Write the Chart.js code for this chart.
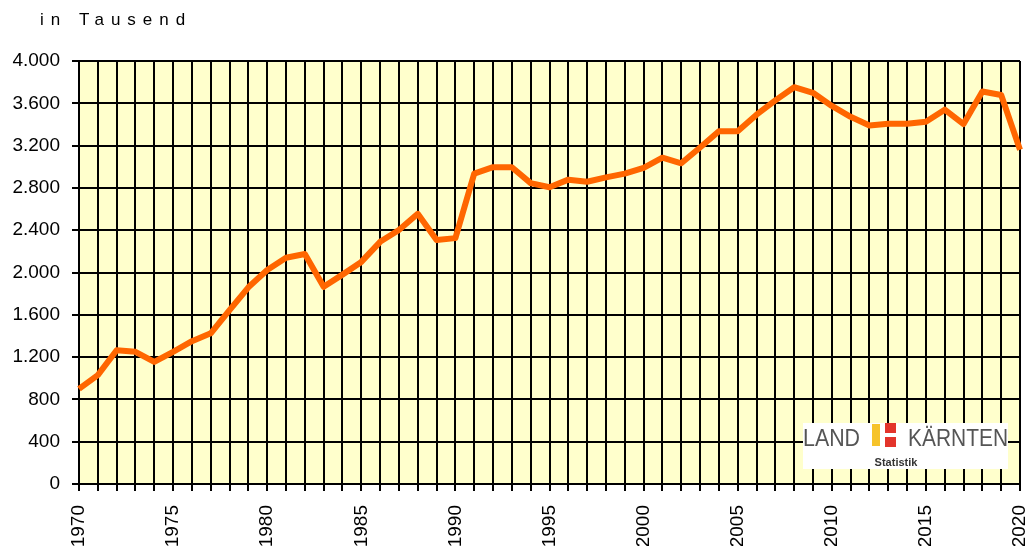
<!DOCTYPE html>
<html>
<head>
<meta charset="utf-8">
<script src="https://cdn.jsdelivr.net/npm/chart.js@4"></script>
<style>
  body { margin: 0; background: #fff; }
</style>
</head>
<body>
<canvas id="chart" width="1027" height="546"></canvas>
<script>
const years = [
  '1970','1971','1972','1973','1974','1975','1976','1977','1978','1979',
  '1980','1981','1982','1983','1984','1985','1986','1987','1988','1989',
  '1990','1991','1992','1993','1994','1995','1996','1997','1998','1999',
  '2000','2001','2002','2003','2004','2005','2006','2007','2008','2009',
  '2010','2011','2012','2013','2014','2015','2016','2017','2018','2019',
  '2020'
];
const werte = [
  900, 1030, 1265, 1250, 1155, 1250, 1350, 1425, 1645, 1860,
  2024, 2140, 2175, 1865, 1980, 2100, 2290, 2402, 2555, 2307,
  2325, 2935, 2996, 2996, 2845, 2806, 2878, 2858, 2900, 2935,
  2990, 3086, 3033, 3182, 3335, 3335, 3492, 3628, 3752, 3699,
  3575, 3472, 3390, 3406, 3406, 3425, 3540, 3404, 3712, 3678,
  3160
];
const xTickLabels = ['1970','1975','1980','1985','1990','1995','2000','2005','2010','2015','2020'];
const yTickLabels = ['0','400','800','1.200','1.600','2.000','2.400','2.800','3.200','3.600','4.000'];

const schrift = "'Liberation Sans', sans-serif";

const hintergrund = {
  id: 'hintergrund',
  beforeDraw(chart) {
    const { ctx, chartArea: a } = chart;
    ctx.save();
    ctx.fillStyle = '#FFFFCC';
    ctx.fillRect(a.left, a.top, a.right - a.left, a.bottom - a.top);
    ctx.restore();
  }
};

const beschriftung = {
  id: 'beschriftung',
  afterDraw(chart) {
    const ctx = chart.ctx;
    ctx.save();
    // Einheit oben links
    ctx.fillStyle = '#000';
    ctx.font = '17px ' + schrift;
    ctx.letterSpacing = '7px';
    ctx.textBaseline = 'middle';
    ctx.fillText('in Tausend', 40, 20);
    ctx.letterSpacing = '0px';

    // Logo
    ctx.fillStyle = '#fff';
    ctx.fillRect(803, 423, 205, 46);
    ctx.fillStyle = '#555';
    ctx.font = '24px ' + schrift;
    ctx.textBaseline = 'alphabetic';
    ctx.fillText('LAND', 803, 446, 57);
    ctx.fillText('KÄRNTEN', 908, 446, 100);
    ctx.fillStyle = '#F6C32A';
    ctx.fillRect(872, 424, 8, 22);
    ctx.fillStyle = '#E3342B';
    ctx.fillRect(885, 423, 11, 10);
    ctx.fillRect(885, 437, 11, 10);
    ctx.fillStyle = '#333';
    ctx.font = 'bold 11px ' + schrift;
    ctx.textAlign = 'center';
    ctx.fillText('Statistik', 896, 466);
    ctx.restore();
  }
};

new Chart(document.getElementById('chart'), {
  type: 'line',
  data: {
    labels: years,
    datasets: [{
      data: werte,
      borderColor: '#FF6600',
      borderWidth: 6,
      borderJoinStyle: 'round',
      pointRadius: 0,
      tension: 0
    }]
  },
  options: {
    responsive: false,
    animation: false,
    layout: { padding: { left: 0, right: 7, top: 61, bottom: 0 } },
    plugins: {
      legend: { display: false },
      tooltip: { enabled: false }
    },
    scales: {
      x: {
        offset: false,
        grid: { color: '#000', lineWidth: 2, tickLength: 7, tickColor: '#000', tickWidth: 2 },
        border: { color: '#000', width: 2 },
        ticks: {
          autoSkip: false,
          maxRotation: 90,
          minRotation: 90,
          padding: 14,
          color: '#000',
          font: { family: schrift, size: 19 },
          callback: function (v) {
            const j = years[v];
            return xTickLabels.includes(j) ? j : '';
          }
        },
        afterFit(scale) {
          scale.height = 62;
          scale.paddingLeft = 0;
          scale.paddingRight = 0;
        }
      },
      y: {
        min: 0,
        max: 4000,
        grid: { color: '#000', lineWidth: 2, tickLength: 7, tickColor: '#000', tickWidth: 2 },
        border: { color: '#000', width: 2 },
        ticks: {
          stepSize: 400,
          padding: 12,
          color: '#000',
          font: { family: schrift, size: 19 },
          callback: function (v) {
            return yTickLabels[Math.round(v / 400)];
          }
        },
        afterFit(scale) {
          scale.width = 79;
          scale.paddingTop = 0;
          scale.paddingBottom = 0;
        }
      }
    }
  },
  plugins: [hintergrund, beschriftung]
});
</script>
</body>
</html>
